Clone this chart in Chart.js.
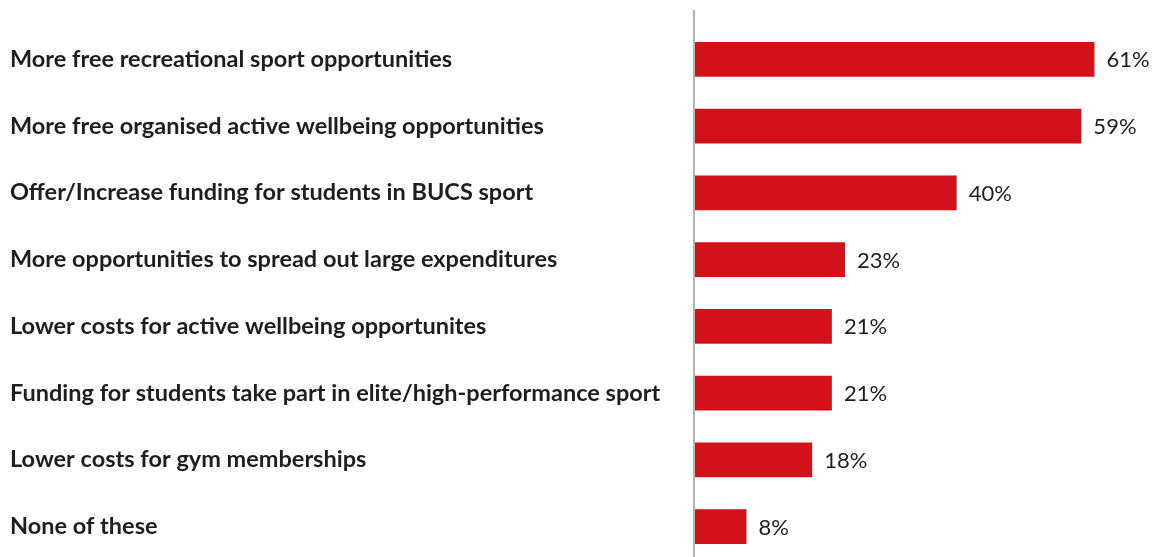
<!DOCTYPE html>
<html>
<head>
<meta charset="utf-8">
<script src="https://cdn.jsdelivr.net/npm/chart.js@4"></script>
<style>
  html, body { margin: 0; padding: 0; background: #fff; overflow: hidden; }
  #wrap { position: relative; width: 1158px; height: 577px; }
</style>
</head>
<body>
<div id="wrap"><canvas id="chart"></canvas></div>
<script>
// Survey: what would help students take part in sport / active wellbeing
const categories = [
    'More free recreational sport opportunities',
    'More free organised active wellbeing opportunities',
    'Offer/Increase funding for students in BUCS sport',
    'More opportunities to spread out large expenditures',
    'Lower costs for active wellbeing opportunites',
    'Funding for students take part in elite/high-performance sport',
    'Lower costs for gym memberships',
    'None of these'
];
const percents = [61, 59, 40, 23, 21, 21, 18, 8];

const RED = '#d2111a';
const TEXT = '#1e1e1e';

// vertical baseline at zero, running a little above the first bar
const zeroLine = {
    id: 'zeroLine',
    afterDatasetsDraw(chart) {
        const { ctx, chartArea, scales } = chart;
        const x = scales.x.getPixelForValue(0);
        ctx.save();
        ctx.strokeStyle = '#b4b4b4';
        ctx.lineWidth = 2;
        ctx.beginPath();
        ctx.moveTo(x, chartArea.top - 16);
        ctx.lineTo(x, chartArea.bottom + 10);
        ctx.stroke();
        ctx.restore();
    }
};

// percentage printed right of each bar
const valueLabels = {
    id: 'valueLabels',
    afterDatasetsDraw(chart) {
        const { ctx } = chart;
        const meta = chart.getDatasetMeta(0);
        ctx.save();
        ctx.font = '22px Lato';
        ctx.fillStyle = TEXT;
        ctx.textAlign = 'left';
        ctx.textBaseline = 'middle';
        meta.data.forEach((bar, i) => {
            ctx.fillText(percents[i] + '%', bar.x + 12, bar.y + 1);
        });
        ctx.restore();
    }
};

new Chart(document.getElementById('chart').getContext('2d'), {
    type: 'bar',
    data: {
        labels: categories,
        datasets: [{
            data: percents,
            backgroundColor: RED,
            borderWidth: 0,
            categoryPercentage: 1,
            barPercentage: 0.52
        }]
    },
    options: {
        indexAxis: 'y',
        responsive: true,
        maintainAspectRatio: false,
        animation: false,
        layout: { padding: { left: 10, top: 26, right: 9, bottom: 0 } },
        scales: {
            x: { display: false, min: 0, max: 69.3 },
            y: {
                grid: { display: false, drawTicks: false },
                border: { display: false },
                afterFit(scale) { scale.width = 684; },
                ticks: {
                    autoSkip: false,
                    crossAlign: 'far',
                    color: TEXT,
                    font: { family: 'Lato', size: 23.5, weight: 'bold' }
                }
            }
        },
        plugins: {
            legend: { display: false },
            tooltip: { enabled: false }
        }
    },
    plugins: [zeroLine, valueLabels]
});
</script>
</body>
</html>
